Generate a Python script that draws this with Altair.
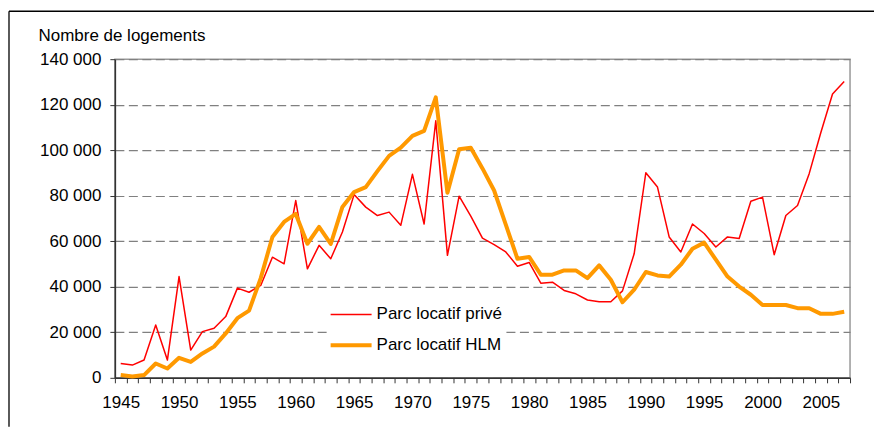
import altair as alt
import pandas as pd

# ---- data ----
years = list(range(1945, 2008))
prive = [6300, 5600, 7800, 23200, 7800, 44500, 12200, 20300, 21800, 26900,
         39400, 37600, 40600, 53000, 50100, 77900, 47900, 58200, 52300, 64100,
         80500, 75000, 71300, 72800, 67000, 89400, 67600, 112900, 53800, 79800,
         71000, 61400, 58500, 55300, 49000, 50700, 41600, 42000, 38400, 36900,
         34200, 33400, 33400, 38200, 54500, 90100, 83800, 61900, 55300, 67600,
         63400, 57500, 61900, 61200, 77600, 79400, 54100, 71300, 75700, 89700,
         107800, 124700, 130200]
hlm = [1200, 600, 1200, 6300, 4100, 8800, 7000, 10700, 13700, 19500,
       26200, 29500, 43800, 61900, 68500, 72000, 58900, 66300, 58800, 75100,
       81600, 83800, 90800, 97500, 101100, 106300, 108500, 123200, 81300, 100400,
       101100, 92000, 82300, 67300, 52300, 53100, 45300, 45300, 47200, 47200,
       43800, 49400, 43100, 33200, 38700, 46500, 45000, 44500, 49700, 56700,
       59400, 51900, 44500, 40100, 36500, 32000, 32000, 32000, 30600, 30600,
       28100, 28100, 29000]
series_names = ["Parc locatif privé", "Parc locatif HLM"]
series_colors = ["#FF0000", "#FF9900"]
series_widths = [1.5, 4]
y_ticks = [0, 20000, 40000, 60000, 80000, 100000, 120000, 140000]

df = pd.DataFrame({
    "annee": years + years,
    "valeur": prive + hlm,
    "serie": [series_names[0]] * len(years) + [series_names[1]] * len(years),
})

x_ticks = [y - 0.5 for y in years] + [years[-1] + 0.5]

FONT = "Liberation Sans"
FS = 17

color_scale = alt.Scale(domain=series_names, range=series_colors)
width_scale = alt.Scale(domain=series_names, range=series_widths)

leg = alt.Legend(
    title=None, orient="none", legendX=214, legendY=234,
    symbolType="stroke", symbolSize=1681,
    labelFontSize=FS, labelFont=FONT, labelColor="black",
    fillColor="white", padding=0, rowPadding=-11, labelOffset=3,
)

x_enc = alt.X(
    "annee:Q",
    scale=alt.Scale(domain=[1944.5, 2007.5], nice=False, zero=False),
    axis=alt.Axis(
        values=x_ticks,
        labelExpr="(datum.value + 0.5) % 5 == 0 ? '' + (datum.value + 0.5) : ''",
        title=None, grid=False, tickSize=5, labelPadding=12,
        labelOverlap=False, labelFlush=False, labelOffset=5.84,
    ),
)
y_enc = alt.Y(
    "valeur:Q",
    scale=alt.Scale(domain=[0, 140000], nice=False),
    axis=alt.Axis(
        values=y_ticks,
        labelExpr="replace(format(datum.value, ',d'), ',', ' ')",
        title="Nombre de logements", titleAngle=0, titleAlign="left",
        titleBaseline="alphabetic", titleX=-77, titleY=-19,
        grid=True, gridDash=[9, 4.5], gridColor="#808080", gridWidth=1.2,
        tickSize=5, labelPadding=9,
    ),
)

def line_layer(name):
    return alt.Chart(df).transform_filter(
        alt.datum.serie == name
    ).mark_line(strokeJoin="round").encode(
        x=x_enc,
        y=y_enc,
        color=alt.Color("serie:N", scale=color_scale, legend=leg),
        strokeWidth=alt.StrokeWidth("serie:N", scale=width_scale, legend=leg),
    )

frame_df = pd.DataFrame({"k": [0]})
frame_v = alt.Chart(frame_df).mark_rule(color="black", strokeWidth=1.3).encode(
    x=alt.value(-106), y=alt.value(-48), y2=alt.value(368)
)
frame_h = alt.Chart(frame_df).mark_rule(color="black", strokeWidth=1.3).encode(
    x=alt.value(-106), x2=alt.value(760), y=alt.value(-48)
)

chart = alt.layer(
    frame_v, frame_h, line_layer(series_names[0]), line_layer(series_names[1])
).properties(
    width=736, height=319,
    padding={"left": 0, "top": 2, "right": 0, "bottom": 0},
).configure(font=FONT).configure_view(
    stroke="#999999", strokeWidth=1.5
).configure_axis(
    labelFont=FONT, labelFontSize=FS, labelColor="black",
    titleFont=FONT, titleFontSize=FS, titleFontWeight="normal", titleColor="black",
    domainColor="#333333", domainWidth=1.5,
    tickColor="#333333", tickWidth=1,
)

chart.save("out.html", embed_options={"renderer": "svg", "actions": False})
